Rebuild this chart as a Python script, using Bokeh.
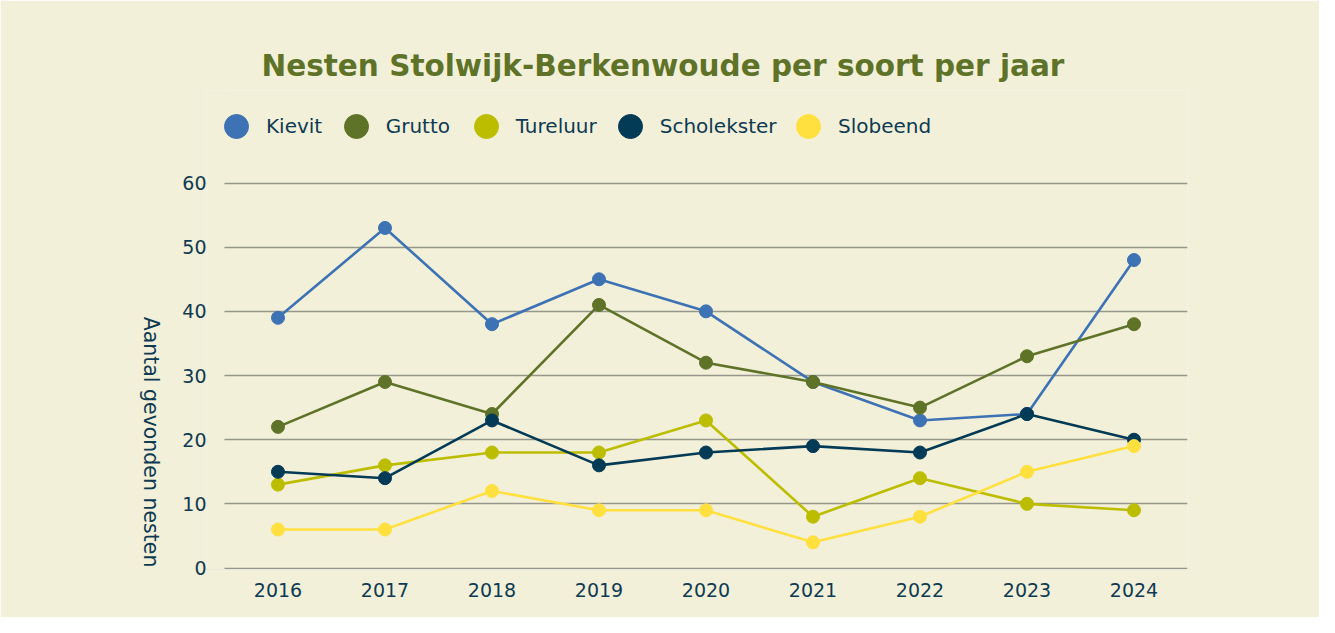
import math
from bokeh.plotting import figure
from bokeh.models import Legend, LegendItem, FixedTicker, Range1d, Label, BoxAnnotation
from bokeh.embed import file_html
from bokeh.resources import INLINE

# ---- data ----
years = [2016, 2017, 2018, 2019, 2020, 2021, 2022, 2023, 2024]
kievit = [39, 53, 38, 45, 40, 29, 23, 24, 48]
grutto = [22, 29, 24, 41, 32, 29, 25, 33, 38]
tureluur = [13, 16, 18, 18, 23, 8, 14, 10, 9]
scholekster = [15, 14, 23, 16, 18, 19, 18, 24, 20]
slobeend = [6, 6, 12, 9, 9, 4, 8, 15, 19]
series_names = ["Kievit", "Grutto", "Tureluur", "Scholekster", "Slobeend"]
y_ticks = [0, 10, 20, 30, 40, 50, 60]
title_text = "Nesten Stolwijk-Berkenwoude per soort per jaar"
y_label_text = "Aantal gevonden nesten"

# ---- style ----
BG = "#F2F0D9"
TXT = "#0E3A52"
TITLE_COL = "#5E7328"
colors = ["#3D72B4", "#5F7328", "#BDBD00", "#033A55", "#FFE03F"]
FONT = "DejaVu Sans"

p = figure(width=1319, height=617,
           x_range=Range1d(2015.3318, 2024.5), y_range=Range1d(-0.23, 74.42),
           output_backend="svg", toolbar_location=None,
           min_border_left=206, min_border_right=132,
           min_border_top=90, min_border_bottom=48,
           background_fill_color=BG, border_fill_color=BG)
p.outline_line_color = None
p.xgrid.grid_line_color = None
p.ygrid.grid_line_color = "#97968C"
p.ygrid.grid_line_width = 1.3

p.title.text = title_text
p.title.align = "left"
p.title.offset = 55
p.title.standoff = 16
p.title.text_font = FONT
p.title.text_font_size = "29.5px"
p.title.text_font_style = "bold"
p.title.text_color = TITLE_COL

p.xaxis.ticker = FixedTicker(ticks=years)
p.yaxis.ticker = FixedTicker(ticks=y_ticks)
for ax in (p.xaxis, p.yaxis):
    ax.axis_line_color = None
    ax.major_tick_line_color = None
    ax.minor_tick_line_color = None
    ax.major_tick_out = 0
    ax.major_tick_in = 0
    ax.major_label_text_font = FONT
    ax.major_label_text_font_size = "19px"
    ax.major_label_text_color = TXT
p.yaxis.major_label_standoff = 0
p.xaxis.major_label_standoff = 13

# keep the grid lines starting where the reference's do
p.add_layout(BoxAnnotation(left=0, right=18, bottom=0, top=479,
                           left_units="screen", right_units="screen",
                           bottom_units="screen", top_units="screen",
                           fill_color=BG, fill_alpha=1, line_color=None))

all_series = [kievit, grutto, tureluur, scholekster, slobeend]
legend_lefts = [0, 119.7, 249.7, 393.7, 572]
for name, vals, col, lx in zip(series_names, all_series, colors, legend_lefts):
    p.line(years, vals, line_width=2.6, color=col)
    r = p.scatter(years, vals, size=13, color=col)
    lg = Legend(items=[LegendItem(label=name, renderers=[r])],
                location=(lx, 412.7), orientation="horizontal",
                glyph_width=60, glyph_height=60, label_standoff=0,
                padding=0, margin=0, spacing=0,
                border_line_color=None, background_fill_alpha=0,
                label_text_font=FONT, label_text_font_size="20px",
                label_text_color=TXT)
    p.add_layout(lg, "center")

ylab = Label(x=-5, y=127.5, x_units="screen", y_units="screen",
             text=y_label_text, angle=-math.pi / 2,
             text_align="center", text_baseline="middle",
             text_font=FONT, text_font_size="20.5px", text_color=TXT)
p.add_layout(ylab, "left")

open("out.html", "w").write(file_html(p, INLINE))
